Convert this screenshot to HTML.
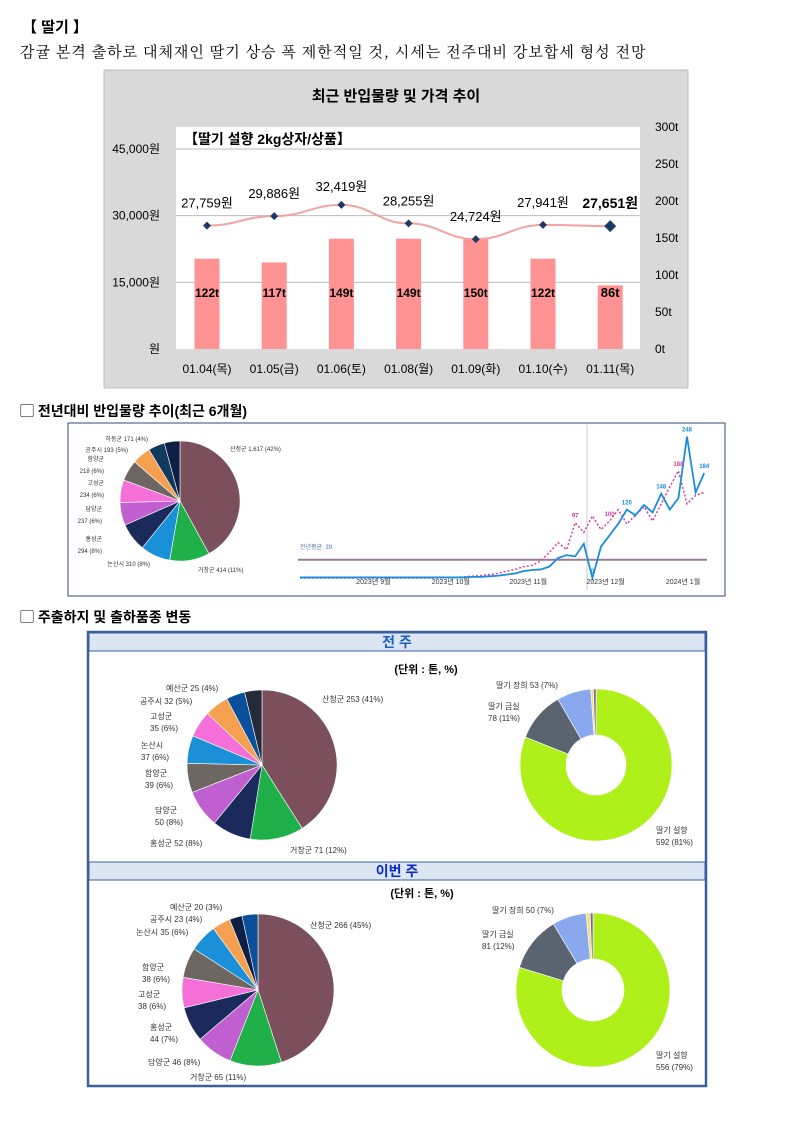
<!DOCTYPE html>
<html><head><meta charset="utf-8"><style>
body{margin:0;background:#fff;}
svg{display:block;font-family:"Liberation Sans","Noto Sans CJK KR",sans-serif;}
</style></head><body>
<svg id="s" width="793" height="1121" viewBox="0 0 793 1121" xmlns="http://www.w3.org/2000/svg">
<text x="22" y="32" font-size="15" font-weight="bold">【 딸기 】</text>
<text x="20" y="57" font-size="15" letter-spacing="1" font-family="'Noto Serif CJK KR','Noto Serif CJK SC',serif">감귤 본격 출하로 대체재인 딸기 상승 폭 제한적일 것, 시세는 전주대비 강보합세 형성 전망</text>
<rect x="104" y="70" width="584" height="318" fill="#d9d9d9" stroke="#bfbfbf"/>
<text x="396" y="101" font-size="15" font-weight="bold" text-anchor="middle">최근 반입물량 및 가격 추이</text>
<rect x="176" y="127" width="464" height="222" fill="#fff"/>
<text x="184" y="144" font-size="14" font-weight="bold">【딸기 설향 2kg상자/상품】</text>
<g id="gtop"></g>
<text x="20" y="416" font-size="14" font-weight="bold">▢ 전년대비 반입물량 추이(최근 6개월)</text>
<rect x="68" y="423" width="657" height="173" fill="#fff" stroke="#2f4a7a" stroke-width="1"/>
<g id="gmid"></g>
<text x="20" y="622" font-size="14" font-weight="bold">▢ 주출하지 및 출하품종 변동</text>
<rect x="88" y="632" width="618" height="454" fill="#fff" stroke="#3a5f9a" stroke-width="2.5"/>
<rect x="89" y="633" width="616" height="18" fill="#dce6f2" stroke="#3a5f9a"/>
<text x="397" y="647" font-size="14" font-weight="bold" fill="#1f5fbf" text-anchor="middle">전 주</text>
<rect x="89" y="862" width="616" height="18" fill="#dce6f2" stroke="#3a5f9a"/>
<text x="397" y="876" font-size="14" font-weight="bold" fill="#0a2ad0" text-anchor="middle">이번 주</text>
<text x="426" y="673" font-size="11" font-weight="bold" text-anchor="middle">(단위 : 톤, %)</text>
<text x="422" y="897" font-size="11" font-weight="bold" text-anchor="middle">(단위 : 톤, %)</text>
<g id="gbot"></g>
</svg>
<script>
// ---- top chart data
const dates=["01.04(목)","01.05(금)","01.06(토)","01.08(월)","01.09(화)","01.10(수)","01.11(목)"];
const prices=[27759,29886,32419,28255,24724,27941,27651];
const volumes=[122,117,149,149,150,122,86];
const leftTicks=[0,15000,30000,45000];
const rightTicks=[0,50,100,150,200,250,300];
// ---- yoy line data
const thisYear=[1,1,1,1,1,1,1,1,1,1,1,1,1,1,1,1,1,1,1,1,2,2,3,4,6,8,12,14,15,20,35,40,38,60,0,55,75,95,120,110,128,115,148,120,140,248,150,184];
const lastYear=[0,0,0,0,0,0,0,0,0,0,0,0,0,0,0,0,0,1,1,2,3,4,6,8,12,15,20,22,30,45,62,50,97,80,109,85,100,120,95,110,125,100,130,160,188,130,145,150];
const avgLastYear=39;
const monthLabels=["2023년 9월","2023년 10월","2023년 11월","2023년 12월","2024년 1월"];
const monthIdx=[9,18,27,36,45];
// ---- pies
const yoyNames=["산청군","거창군","논산시","홍성군","담양군","고성군","함양군","공주시","하동군","기타"];
const yoyVals=[1617,414,310,294,237,234,218,193,171,162];
const prevNames=["산청군","거창군","홍성군","담양군","함양군","논산시","고성군","공주시","예산군","기타"];
const prevVals=[253,71,52,50,39,37,35,32,25,23];
const thisNames=["산청군","거창군","담양군","홍성군","고성군","함양군","논산시","공주시","기타","예산군"];
const thisVals=[266,65,46,44,38,38,35,23,16,20];
const varNames=["딸기 설향","딸기 금실","딸기 장희","기타1","기타2"];
const prevVarVals=[592,78,53,4,4];
const thisVarVals=[556,81,50,6,4];
const NS="http://www.w3.org/2000/svg";
function mk(p,t,a,txt){const e=document.createElementNS(NS,t);for(const k in a)e.setAttribute(k,a[k]);if(txt!=null)e.textContent=txt;p.appendChild(e);return e;}
// top chart
const gTop=document.getElementById('gtop');
const yL=v=>349-v*200/45000, yR=v=>349-v*222/300, xC=i=>207+i*67.2;
leftTicks.forEach(t=>{
 if(t>0){const g=mk(gTop,'line',{x1:176,x2:640,y1:yL(t),y2:yL(t),stroke:'#bbb'});}
 const e=mk(gTop,'text',{x:160,y:yL(t)+4,'font-size':12,'text-anchor':'end'},t?t.toLocaleString()+'원':'원');
 
 
});
rightTicks.forEach(t=>{const e=mk(gTop,'text',{x:655,y:yR(t)+4,'font-size':12},t+'t');
 
 });
volumes.forEach((v,i)=>{
 const r=mk(gTop,'rect',{x:xC(i)-12.5,y:yR(v),width:25,height:yR(0)-yR(v),fill:'#ff9393'});
 
 
 const t=mk(gTop,'text',{x:xC(i),y:yR(0)-52,'font-size':i==6?13:12,'font-weight':'bold','text-anchor':'middle'},v+'t');
 
 
 const d=mk(gTop,'text',{x:xC(i),y:373,'font-size':12,'text-anchor':'middle'},dates[i]);
 
 
});
let pd='';prices.forEach((p,i)=>{const x=xC(i),y=yL(p);if(!i)pd='M'+x+','+y;else{const px=xC(i-1),py=yL(prices[i-1]);pd+=` C${px+30},${py} ${x-30},${y} ${x},${y}`;}});
const pl=mk(gTop,'path',{d:pd,fill:'none',stroke:'#f4a3a3','stroke-width':2});


prices.forEach((p,i)=>{const x=xC(i),y=yL(p),s=i==6?6:4;
 const m=mk(gTop,'path',{d:`M${x},${y-s}L${x+s},${y}L${x},${y+s}L${x-s},${y}Z`,fill:'#1f3864'});
 
 
 const t=mk(gTop,'text',{x:x,y:y-(i==2?14:18),'font-size':i==6?14:13,'font-weight':i==6?'bold':'normal','text-anchor':'middle'},p.toLocaleString()+'원');
 
 
});
// pie helper
function pie(g,cx,cy,r,vals,cols,start,inner,name){
 const tot=vals.reduce((a,b)=>a+b,0);let a=start;
 vals.forEach((v,i)=>{const a2=a+v/tot*2*Math.PI;
  const p=(ang,rr)=>[cx+rr*Math.sin(ang),cy-rr*Math.cos(ang)];
  const [x1,y1]=p(a,r),[x2,y2]=p(a2,r),lg=a2-a>Math.PI?1:0;
  let d=`M${x1},${y1}A${r},${r} 0 ${lg} 1 ${x2},${y2}`;
  if(inner){const [x3,y3]=p(a2,inner),[x4,y4]=p(a,inner);d+=`L${x3},${y3}A${inner},${inner} 0 ${lg} 0 ${x4},${y4}Z`;}
  else d+=`L${cx},${cy}Z`;
  const e=mk(g,'path',{d:d,fill:cols[i],stroke:'#fff','stroke-width':0.6});
  
  
  a=a2;});
}
function lbl(g,x,y,lines,anchor,fs){lines.forEach((l,k)=>{const e=mk(g,'text',{x:x,y:y+k*12,'font-size':fs||8,'text-anchor':anchor||'start',fill:'#333'},l);
 
 });}
// middle
const gMid=document.getElementById('gmid');
pie(gMid,180,501,60,yoyVals,['#7b4f5b','#1fb04a','#1a90d8','#1a2a5a','#c05fcf','#f470d8','#6e6660','#f5a050','#12395e','#0e1f44'],0,0,'yoy-pie-slice');
lbl(gMid,230,451,[yoyNames[0]+' 1,617 (42%)'],'start',6);
lbl(gMid,198,572,[yoyNames[1]+' 414 (11%)'],'start',6);
lbl(gMid,150,566,[yoyNames[2]+' 310 (8%)'],'end',6);
lbl(gMid,102,541,[yoyNames[3],'294 (8%)'],'end',6);
lbl(gMid,102,511,[yoyNames[4],'237 (6%)'],'end',6);
lbl(gMid,104,485,[yoyNames[5],'234 (6%)'],'end',6);
lbl(gMid,104,461,[yoyNames[6],'218 (6%)'],'end',6);
lbl(gMid,128,452,[yoyNames[7]+' 193 (5%)'],'end',6);
lbl(gMid,148,441,[yoyNames[8]+' 171 (4%)'],'end',6);
const yS=v=>578-v*0.57, xS=i=>300+i*8.6;
const av=mk(gMid,'line',{x1:298,x2:707,y1:yS(avgLastYear)+4,y2:yS(avgLastYear)+4,stroke:'#9b7a99','stroke-width':2});


const avt=mk(gMid,'text',{x:300,y:549,'font-size':6,fill:'#5577bb'},'전년평균: '+avgLastYear);


const vl=mk(gMid,'line',{x1:587,x2:587,y1:425,y2:590,stroke:'#ccc'});


const ly=mk(gMid,'polyline',{points:lastYear.map((v,i)=>xS(i)+','+yS(v)).join(' '),fill:'none',stroke:'#d63fa0','stroke-width':1.5,'stroke-dasharray':'2,2'});


const ty=mk(gMid,'polyline',{points:thisYear.map((v,i)=>xS(i)+','+yS(v)).join(' '),fill:'none',stroke:'#1a8ce0','stroke-width':1.8});


[[45,'#1a8ce0',thisYear],[47,'#1a8ce0',thisYear],[42,'#1a8ce0',thisYear],[38,'#1a8ce0',thisYear],[34,'#1a8ce0',thisYear],[32,'#d63fa0',lastYear],[36,'#d63fa0',lastYear],[44,'#d63fa0',lastYear]].forEach(([i,c,arr])=>{
 const e=mk(gMid,'text',{x:xS(i),y:yS(arr[i])-5,'font-size':6,fill:c,'text-anchor':'middle','font-weight':'bold'},arr[i]);
 
 });
monthLabels.forEach((m,k)=>{const e=mk(gMid,'text',{x:xS(monthIdx[k])-4,y:584,'font-size':7,'text-anchor':'middle',fill:'#333'},m);
 
 });
// bottom
const gBot=document.getElementById('gbot');
const cPrev=['#7b4f5b','#1fb04a','#1a2a5a','#c05fcf','#6e6660','#1a90d8','#f470d8','#f5a050','#0a4f9a','#232a38'];
pie(gBot,262,765,75,prevVals,cPrev,0,0,'prev-origin-slice');
lbl(gBot,322,702,[prevNames[0]+' 253 (41%)']);
lbl(gBot,290,853,[prevNames[1]+' 71 (12%)']);
lbl(gBot,150,846,[prevNames[2]+' 52 (8%)']);
lbl(gBot,155,813,[prevNames[3],'50 (8%)']);
lbl(gBot,145,776,[prevNames[4],'39 (6%)']);
lbl(gBot,141,748,[prevNames[5],'37 (6%)']);
lbl(gBot,150,719,[prevNames[6],'35 (6%)']);
lbl(gBot,140,704,[prevNames[7]+' 32 (5%)']);
lbl(gBot,166,691,[prevNames[8]+' 25 (4%)']);
const cVar=['#b0f01a','#5a6370','#8aa8ee','#f0e080','#8060a0'];
pie(gBot,596,765,76,prevVarVals,cVar,0,30,'prev-variety-slice');
lbl(gBot,496,688,[varNames[2]+' 53 (7%)']);
lbl(gBot,488,709,[varNames[1],'78 (11%)']);
lbl(gBot,656,833,[varNames[0],'592 (81%)']);
const cThis=['#7b4f5b','#1fb04a','#c05fcf','#1a2a5a','#f470d8','#6e6660','#1a90d8','#f5a050','#0e1f44','#0a4f9a'];
pie(gBot,258,990,76,thisVals,cThis,0,0,'this-origin-slice');
lbl(gBot,310,928,[thisNames[0]+' 266 (45%)']);
lbl(gBot,190,1080,[thisNames[1]+' 65 (11%)']);
lbl(gBot,148,1065,[thisNames[2]+' 46 (8%)']);
lbl(gBot,150,1030,[thisNames[3],'44 (7%)']);
lbl(gBot,138,997,['고성군','38 (6%)']);
lbl(gBot,142,970,['함양군','38 (6%)']);
lbl(gBot,136,935,[thisNames[6]+' 35 (6%)']);
lbl(gBot,150,922,[thisNames[7]+' 23 (4%)']);
lbl(gBot,170,910,[thisNames[9]+' 20 (3%)']);
pie(gBot,593,990,77,thisVarVals,cVar,0,31,'this-variety-slice');
lbl(gBot,492,913,[varNames[2]+' 50 (7%)']);
lbl(gBot,482,937,[varNames[1],'81 (12%)']);
lbl(gBot,656,1058,[varNames[0],'556 (79%)']);
</script>
</body></html>
